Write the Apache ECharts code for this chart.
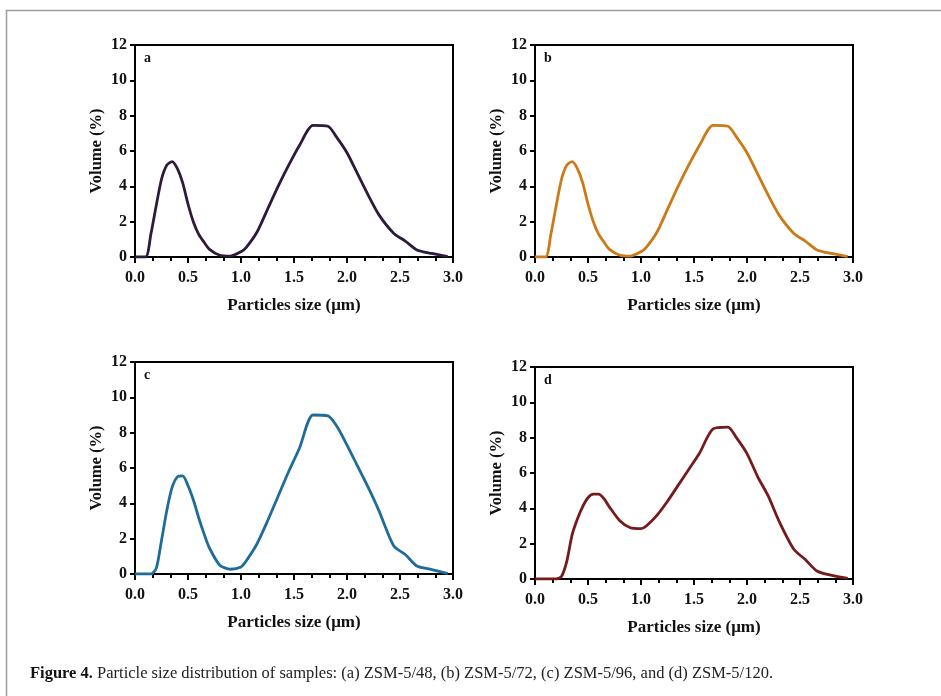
<!DOCTYPE html>
<html>
<head>
<meta charset="utf-8">
<title>Particle size distribution</title>
<script src="https://cdn.jsdelivr.net/npm/echarts@6/dist/echarts.min.js"></script>
<style>
  html, body { margin: 0; padding: 0; background: #fff; }
  #chart { width: 941px; height: 696px; }
</style>
</head>
<body>
<div id="chart"></div>
<script>
// particle size (um) sampling points, shared by all four samples
var sizes = [0, 0.1, 0.15, 0.2, 0.25, 0.3, 0.35, 0.4, 0.45, 0.5, 0.55, 0.6, 0.65, 0.7, 0.8, 0.9, 1.0, 1.05, 1.15, 1.25,
  1.35, 1.45, 1.55, 1.68, 1.82, 1.9, 2.0, 2.1, 2.2, 2.3, 2.44, 2.55, 2.66, 2.8, 2.95]

// volume (%) per sample
var volA = [0, 0, 1.3, 2.9, 4.4, 5.2, 5.4, 5.0, 4.2, 3.0, 2.0, 1.3, 0.85, 0.45, 0.1, 0.05, 0.3, 0.55, 1.4, 2.7,
  4.0, 5.2, 6.3, 7.45, 7.4, 6.8, 5.9, 4.7, 3.5, 2.4, 1.35, 0.9, 0.4, 0.2, 0.02]
var volB = [0, 0, 1.3, 2.9, 4.4, 5.2, 5.4, 5.0, 4.2, 3.0, 2.0, 1.3, 0.85, 0.45, 0.1, 0.05, 0.3, 0.55, 1.4, 2.7,
  4.0, 5.2, 6.3, 7.45, 7.4, 6.8, 5.9, 4.7, 3.5, 2.4, 1.35, 0.9, 0.4, 0.2, 0.02]
var volC = [0, 0, 0, 0.3, 1.9, 3.6, 4.9, 5.5, 5.55, 5.0, 4.2, 3.2, 2.3, 1.5, 0.5, 0.27, 0.4, 0.75, 1.7, 3.0,
  4.4, 5.8, 7.1, 9.0, 8.95, 8.4, 7.3, 6.1, 4.9, 3.6, 1.6, 1.1, 0.45, 0.25, 0.02]
var volD = [0, 0, 0, 0, 0.15, 1.0, 2.5, 3.4, 4.1, 4.6, 4.8, 4.8, 4.55, 4.1, 3.3, 2.9, 2.85, 3.0, 3.6, 4.4,
  5.3, 6.2, 7.1, 8.5, 8.6, 8.0, 7.1, 5.8, 4.7, 3.3, 1.7, 1.1, 0.45, 0.2, 0.03]

var panelLetters = ['a', 'b', 'c', 'd']
var panelColors = ['#2d1a3d', '#cc7a18', '#1f6c9a', '#761b1b']
var panelData = [volA, volB, volC, volD]

var xName = 'Particles size (μm)'
var yName = 'Volume (%)'
var captionHead = 'Figure 4.'
var caption = ' Particle size distribution of samples: (a) ZSM-5/48, (b) ZSM-5/72, (c) ZSM-5/96, and (d) ZSM-5/120.'

var font = '"Liberation Serif", "Times New Roman", serif'

// plot boxes in px
var boxes = [
  { left: 135, top: 45 },
  { left: 535, top: 45 },
  { left: 135, top: 362 },
  { left: 535, top: 367 }
]

var grids = [], xAxes = [], yAxes = [], series = [], titles = []

boxes.forEach(function (b, i) {
  grids.push({
    left: b.left, top: b.top, width: 318, height: 212,
    show: true, borderColor: '#000', borderWidth: 2, backgroundColor: 'transparent'
  })
  xAxes.push({
    gridIndex: i, type: 'value', min: 0, max: 3, interval: 0.5,
    name: xName, nameLocation: 'middle', nameGap: 40,
    nameTextStyle: { fontFamily: font, fontWeight: 'bold', fontSize: 17, color: '#111' },
    axisLine: { lineStyle: { color: '#000', width: 2 } },
    axisTick: { length: 6, lineStyle: { color: '#000', width: 2 } },
    minorTick: { show: true, splitNumber: 3, length: 4, lineStyle: { color: '#000', width: 2 } },
    axisLabel: {
      margin: 13, fontFamily: font, fontWeight: 'bold', fontSize: 16, color: '#111',
      formatter: function (v) { return v.toFixed(1) }
    },
    splitLine: { show: false }
  })
  yAxes.push({
    gridIndex: i, type: 'value', min: 0, max: 12, interval: 2,
    name: yName, nameLocation: 'middle', nameGap: 30, nameRotate: 90,
    nameTextStyle: { fontFamily: font, fontWeight: 'bold', fontSize: 16.5, color: '#111' },
    axisLine: { show: true, lineStyle: { color: '#000', width: 2 } },
    axisTick: { show: true, length: 5, lineStyle: { color: '#000', width: 2 } },
    axisLabel: { margin: 8, fontFamily: font, fontWeight: 'bold', fontSize: 16, color: '#111' },
    splitLine: { show: false }
  })
  series.push({
    type: 'line',
    xAxisIndex: i, yAxisIndex: i,
    data: sizes.map(function (s, k) { return [s, panelData[i][k]] }),
    showSymbol: false,
    smooth: 0.25,
    lineStyle: { color: panelColors[i], width: 2.8 },
    z: 1
  })
  titles.push({
    text: panelLetters[i], left: b.left + 4, top: b.top + 1,
    textStyle: { fontFamily: font, fontWeight: 'bold', fontSize: 14, color: '#111' }
  })
})

titles.push({
  text: '{b|' + captionHead + '}' + caption,
  left: 30, top: 665, padding: 0,
  textStyle: {
    fontFamily: font, fontSize: 16.5, fontWeight: 'normal', color: '#222',
    rich: {
      b: { fontFamily: font, fontSize: 16.5, fontWeight: 'bold', color: '#111' }
    }
  }
})

var myChart = echarts.init(document.getElementById('chart'), null, { renderer: 'canvas' })

myChart.setOption({
  animation: false,
  backgroundColor: '#fff',
  title: titles,
  grid: grids,
  xAxis: xAxes,
  yAxis: yAxes,
  series: series,
  graphic: [
    // page frame
    {
      type: 'rect', silent: true,
      shape: { x: 6.5, y: 10.5, width: 1000, height: 1000 },
      style: { fill: null, stroke: '#9c9c9c', lineWidth: 1.5 }
    }
  ]
})
</script>
</body>
</html>
